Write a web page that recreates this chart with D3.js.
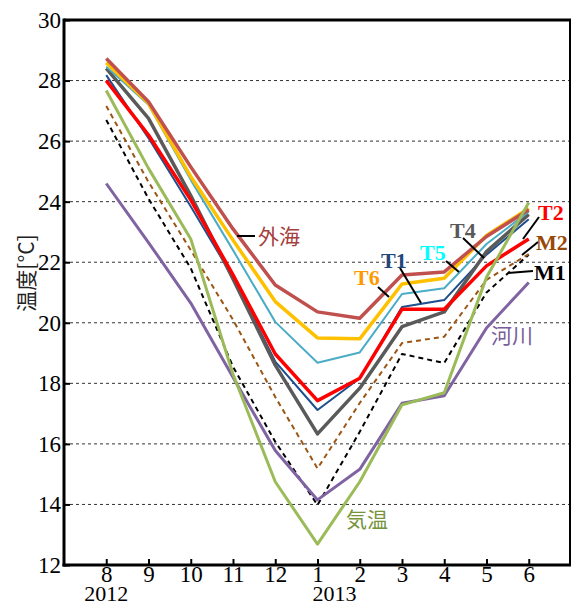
<!DOCTYPE html>
<html>
<head>
<meta charset="utf-8">
<script src="https://cdn.jsdelivr.net/npm/d3@7"></script>
<style>
  body { margin: 0; background: #fff; }
  svg text { font-family: "Liberation Serif", "Times New Roman", serif; }
  svg text.jp { font-family: "Noto Sans CJK JP", sans-serif; }
</style>
</head>
<body>
<div id="chart"></div>
<script>
// months on the x axis (Aug 2012 .. Jun 2013)
const months = ["8", "9", "10", "11", "12", "1", "2", "3", "4", "5", "6"];
const yTicks = [12, 14, 16, 18, 20, 22, 24, 26, 28, 30];

// monthly mean temperature [°C]
const gaikai = [28.73, 27.3, 25.15, 23.1, 21.25, 20.36, 20.15, 21.58, 21.68, 22.85, 23.73];   // 外海
const t6     = [28.59, 27.25, 24.83, 22.73, 20.7, 19.5, 19.47, 21.28, 21.47, 22.88, 23.78];
const t5     = [28.46, 27.2, 24.72, 22.4, 20.03, 18.68, 19.02, 20.95, 21.14, 22.6, 23.67];
const t4     = [28.4, 26.75, 24.2, 21.45, 18.6, 16.33, 17.84, 19.87, 20.36, 22.35, 23.58];
const t1     = [28.18, 26.1, 23.84, 21.5, 18.72, 17.12, 18.17, 20.52, 20.75, 22.25, 23.42];
const t2     = [28.0, 26.2, 24.06, 21.58, 18.97, 17.43, 18.17, 20.45, 20.45, 21.88, 22.77];
const m2     = [27.16, 24.65, 22.4, 20.1, 17.55, 15.19, 17.35, 19.33, 19.54, 21.42, 22.27];
const m1     = [26.7, 24.1, 21.8, 18.55, 16.07, 13.98, 16.4, 18.97, 18.67, 21.0, 22.25];
const kion   = [27.67, 25.1, 22.77, 18.3, 14.75, 12.69, 14.75, 17.29, 17.69, 21.5, 23.97];   // 気温
const kasen  = [24.6, 22.65, 20.65, 18.2, 15.78, 14.15, 15.16, 17.34, 17.59, 19.83, 21.33];   // 河川

const width = 572, height = 605;
const margin = {top: 20, right: 1, bottom: 40, left: 64};
const serif = "'Liberation Serif', 'Times New Roman', serif";

const svg = d3.select("#chart").append("svg")
  .attr("width", width)
  .attr("height", height);

const x = d3.scalePoint()
  .domain(months.map((m, i) => i))
  .range([margin.left, width - margin.right])
  .padding(1);

const y = d3.scaleLinear()
  .domain([12, 30])
  .range([height - margin.bottom, margin.top]);

// dashed grid
svg.append("g")
  .selectAll("line")
  .data(yTicks.filter(d => d > 12 && d < 30))
  .join("line")
  .attr("x1", margin.left)
  .attr("x2", width - margin.right)
  .attr("y1", d => y(d))
  .attr("y2", d => y(d))
  .attr("stroke", "#333")
  .attr("stroke-width", 1)
  .attr("stroke-dasharray", "3,3");

// frame top / right
svg.append("line")
  .attr("x1", margin.left).attr("x2", width - margin.right)
  .attr("y1", y(30)).attr("y2", y(30))
  .attr("stroke", "#000").attr("stroke-width", 3);
svg.append("line")
  .attr("x1", width - margin.right - 1).attr("x2", width - margin.right - 1)
  .attr("y1", y(30)).attr("y2", y(12))
  .attr("stroke", "#000").attr("stroke-width", 2);

const line = d3.line()
  .x((d, i) => x(i))
  .y(d => y(d));

const series = [
  {values: m1, color: "#000", w: 2, dash: "5,4"},
  {values: m2, color: "#9C5515", w: 2, dash: "5,4"},
  {values: kasen, color: "#8064A2", w: 3},
  {values: t1, color: "#1F4E8C", w: 2},
  {values: t4, color: "#5A5A5A", w: 3.5},
  {values: t5, color: "#4BACC6", w: 2},
  {values: t2, color: "#FF0000", w: 3.5},
  {values: t6, color: "#FFC000", w: 3.5},
  {values: gaikai, color: "#C0504D", w: 3.5},
  {values: kion, color: "#9BBB59", w: 3}
];

svg.append("g")
  .selectAll("path")
  .data(series)
  .join("path")
  .attr("d", d => line(d.values))
  .attr("fill", "none")
  .attr("stroke", d => d.color)
  .attr("stroke-width", d => d.w)
  .attr("stroke-dasharray", d => d.dash || null)
  .attr("stroke-linejoin", "round");

// axes
const yAxis = svg.append("g")
  .attr("transform", `translate(${margin.left},0)`)
  .call(d3.axisLeft(y).tickValues(yTicks).tickSizeInner(-6).tickSizeOuter(0).tickPadding(3));
const xAxis = svg.append("g")
  .attr("transform", `translate(0,${height - margin.bottom})`)
  .call(d3.axisBottom(x).tickFormat(i => months[i]).tickSizeInner(-6).tickSizeOuter(0).tickPadding(1));

[yAxis, xAxis].forEach(g => {
  g.attr("font-family", null);
  g.select(".domain").attr("stroke-width", 3);
  g.selectAll(".tick line").attr("stroke-width", 2);
  g.selectAll("text")
    .style("font-family", serif)
    .attr("font-size", 23)
    .attr("fill", "#000");
});
xAxis.select(".domain").attr("d", `M${margin.left - 1.5},0H${width - margin.right}`);
yAxis.select(".domain").attr("d", `M0,${y(12) + 1.5}V${y(30) - 1.5}`);

// year labels
svg.append("text")
  .attr("x", x(0)).attr("y", 601)
  .attr("text-anchor", "middle")
  .attr("font-size", 22)
  .style("font-family", serif)
  .text("2012");
svg.append("text")
  .attr("x", x(5) + 17).attr("y", 601)
  .attr("text-anchor", "middle")
  .attr("font-size", 22)
  .style("font-family", serif)
  .text("2013");

// y axis title
svg.append("text")
  .attr("class", "jp")
  .attr("transform", "translate(34,273) rotate(-90)")
  .attr("text-anchor", "middle")
  .attr("font-size", 21)
  .attr("fill", "#222")
  .text("温度[°C]");

// series labels
const labels = [
  {text: "外海", x: 258, y: 244, color: "#A5403C", jp: true, lead: [237, 236, 255, 236]},
  {text: "T6", x: 354, y: 285, color: "#FF9900", lead: [378, 287, 389, 297]},
  {text: "T1", x: 381, y: 268, color: "#1F497D", lead: [400, 268, 421, 303]},
  {text: "T5", x: 420, y: 260, color: "#00FFFF", lead: [446, 261, 459, 272]},
  {text: "T4", x: 450, y: 238, color: "#595959", lead: [463, 238, 484, 258]},
  {text: "T2", x: 538, y: 220, color: "#FF0000", lead: [539, 217, 523, 239]},
  {text: "M2", x: 536, y: 250, color: "#984807", lead: [538, 242, 522, 255]},
  {text: "M1", x: 534, y: 280, color: "#000", lead: [508, 273, 533, 271]},
  {text: "河川", x: 491, y: 343, color: "#7A5C99", jp: true},
  {text: "気温", x: 346, y: 527, color: "#77933C", jp: true}
];

svg.append("g")
  .selectAll("line")
  .data(labels.filter(d => d.lead))
  .join("line")
  .attr("x1", d => d.lead[0]).attr("y1", d => d.lead[1])
  .attr("x2", d => d.lead[2]).attr("y2", d => d.lead[3])
  .attr("stroke", "#000")
  .attr("stroke-width", 2);

svg.append("g")
  .selectAll("text")
  .data(labels)
  .join("text")
  .attr("class", d => d.jp ? "jp" : null)
  .attr("x", d => d.x)
  .attr("y", d => d.y)
  .attr("fill", d => d.color)
  .attr("font-size", d => d.jp ? 21 : 22)
  .attr("font-weight", d => d.jp ? "normal" : "bold")
  .text(d => d.text);
</script>
</body>
</html>
